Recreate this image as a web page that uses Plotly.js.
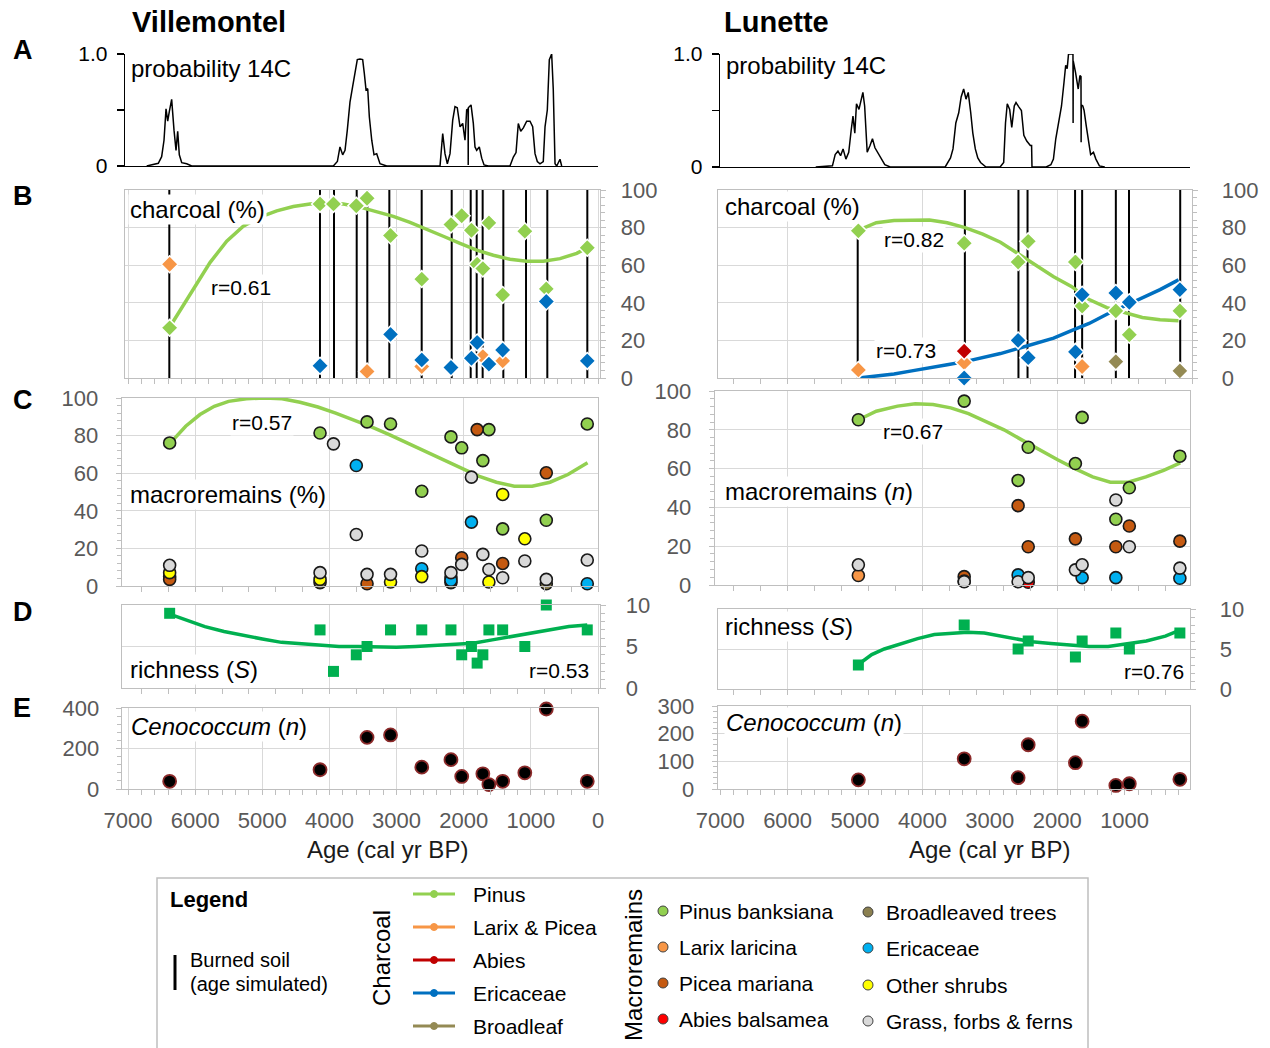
<!DOCTYPE html>
<html><head><meta charset="utf-8">
<script src="https://cdn.plot.ly/plotly-3.0.1.min.js"></script>
<style>html,body{margin:0;padding:0;background:#fff}#chart{width:1270px;height:1048px}</style>
</head><body><div id="chart"></div>
<script>
// ================= DATA =================
const siteNames = ['Villemontel', 'Lunette'];
const panelLetters = ['A', 'B', 'C', 'D', 'E'];
const ageTicks = [7000, 6000, 5000, 4000, 3000, 2000, 1000, 0];

// A: summed 14C probability (age cal yr BP, relative probability)
const probAgeV = [6722,6549,6499,6464,6434,6409,6385,6350,6315,6285,6260,6236,6200,6126,6052,
  3942,3882,3843,3803,3768,3734,3694,3654,3619,3585,3545,3505,3481,3455,3430,3406,3370,3336,3296,3247,3147,
  2353,2313,2279,2244,2204,2164,2130,2096,2055,2015,1981,1956,1935,1933,1931,1917,1891,1857,1832,1807,1768,1732,1697,1634,
  1311,1261,1221,1187,1151,1112,1062,1013,973,938,904,864,815,789,755,725,690,666,640,615,566,541];
const probV = [0,0.024,0.083,0.23,0.51,0.40,0.485,0.595,0.32,0.14,0.31,0.10,0.03,0.02,0,
  0,0.04,0.17,0.10,0.14,0.32,0.57,0.71,0.83,0.95,0.955,0.95,0.83,0.68,0.69,0.44,0.23,0.10,0.11,0.02,0,
  0,0.29,0.11,0.02,0.11,0.41,0.53,0.52,0.35,0.38,0.23,0.50,0.51,0.01,0.52,0.53,0.545,0.38,0.17,0.14,0.17,0.07,0.01,0,
  0,0.08,0.12,0.38,0.31,0.34,0.40,0.40,0.35,0.11,0.04,0.02,0.04,0.35,0.50,0.95,1.0,0.68,0.02,0,0.06,0];
const probAgeL = [5583,5335,5294,5253,5214,5177,5135,5093,5056,5030,5003,4978,4941,4915,4883,4857,4819,4777,4741,4704,4662,4610,4558,4478,
  3662,3583,3546,3504,3461,3425,3388,3353,3320,3283,3252,3215,3178,3137,3057,
  2847,2794,2767,2741,2705,2674,2637,2611,2567,2531,2495,2452,2399,2380,2374,
  2163,2094,2056,2021,1978,1936,1899,1874,1852,1832,1769,1766,1764,1762,1729,1688,1663,1647,1645,1643,1620,1601,1568,1531,1504,1462,1426,1374,1294];
const probL = [0,0.01,0.11,0.14,0.10,0.16,0.07,0.13,0.33,0.45,0.30,0.56,0.51,0.59,0.66,0.54,0.13,0.19,0.25,0.17,0.13,0.07,0.02,0,
  0,0.08,0.16,0.39,0.48,0.62,0.69,0.60,0.66,0.48,0.30,0.16,0.08,0.04,0,
  0,0.04,0.39,0.56,0.51,0.35,0.54,0.57,0.53,0.50,0.28,0.23,0.19,0.19,0,
  0,0.02,0.07,0.25,0.39,0.54,0.75,0.90,0.87,1.0,1.0,1.0,0.39,0.94,0.84,0.69,0.81,0.80,0.22,0.55,0.54,0.50,0.36,0.19,0.11,0.13,0.07,0.01,0];

// sample ages (cal yr BP)
const ageV = [6380,4140,3940,3600,3440,3090,2625,2190,2030,1885,1800,1715,1625,1420,1090,770,160];
const ageL = [4950,3380,2580,2430,1730,1630,1130,930,180];

// burned soil, simulated ages, and top of line (%)
const burnAgeV = [6385,4141,3932,3594,3436,3108,2626,2179,1896,1807,1718,1410,1072,755,159];
const burnAgeL = [4960,3370,2575,2440,1735,1630,1130,935,175];
const burnTopL = [78,100,100,100,100,100,100,100,100];

// B: charcoal (%)
const charPinusV = [26.7,92.6,92.6,91.6,95.6,75.8,52.6,81.6,86.3,78.6,60.5,58.2,82.5,44.2,78.1,47.4,69.3];
const charLarixV = [60.5,null,null,null,3.5,null,6.1,null,null,null,null,11.4,null,9.1,null,null,null];
const charEricV  = [null,6.5,null,null,null,23.2,9.6,5.6,null,10.5,18.9,null,7.4,14.9,null,40.7,9.1];
const charPinusL = [78.3,71.7,61.7,72.7,61.7,38.3,35.7,23.0,35.7];
const charLarixL = [4.3,8.2,null,null,null,6.1,null,null,null];
const charAbiesL = [null,14.3,null,null,null,null,null,null,null];
const charEricL  = [null,0,20.0,10.8,13.9,44.3,45.2,40.3,47.0];
const charBroadL = [null,null,null,null,null,null,8.7,null,3.8];

// B: fitted trends
const fitCharPinusV_age = [6385,6027,5779,5530,5283,5034,4785,4538,4290,4041,3793,3545,3296,3049,2800,2551,2304,2055,1807,1559,1311,1062,815,566,317,159];
const fitCharPinusV = [26.7,47.4,61.4,72.8,80.7,85.6,88.9,91.2,92.5,93.0,92.6,90.9,88.6,86.0,82.8,79.3,75.4,71.6,68.0,65.3,63.2,62.1,62.1,63.5,66.3,69.3];
const fitCharPinusL_age = [4974,4684,4421,4158,3895,3632,3368,3105,2842,2579,2316,2053,1789,1526,1263,1000,737,474,200];
const fitCharPinusL = [78.3,82.6,83.8,84.0,84.0,82.6,80.0,76.5,72.2,66.1,60.0,53.9,48.7,41.7,37.4,34.8,32.2,31.0,30.4];
const fitCharEricL_age = [4947,4684,4421,4158,3895,3632,3368,3105,2842,2579,2316,2053,1789,1526,1263,1000,737,474,200];
const fitCharEricL = [0,0.9,2.1,3.8,5.6,7.0,8.7,10.8,13.0,15.7,18.3,21.2,25.2,29.0,33.9,38.3,42.6,47.0,52.2];

// C: macroremains (% Villemontel, n Lunette)
const macPinusV = [76.1,81.4,null,null,87.3,86.2,50.4,79.3,73.5,null,null,66.7,83.2,30.4,null,35.0,86.2];
const macLarixV = [5,null,null,null,null,null,null,null,null,null,null,null,null,null,null,null,null];
const macPiceaV = [3.5,null,null,null,1.2,null,null,4.8,15.0,null,83.2,null,null,12.0,null,60.2,null];
const macBroadV = [null,1.8,null,null,null,null,null,1.8,null,null,null,null,null,null,null,1.2,null];
const macEricV  = [null,null,null,64.1,null,null,9.2,3.0,null,34.0,null,null,null,null,null,null,1.2];
const macShrubV = [7.1,3.5,null,null,null,2.1,5.0,null,null,null,null,null,2.1,48.7,25.1,null,null];
const macGrassV = [11,7.1,75.6,27.4,6.2,6.2,18.6,7.1,11.5,57.9,null,16.8,8.8,4.4,13.3,3.5,13.8];
const macPinusL = [85.2,94.8,53.9,71.0,62.6,86.4,33.9,50.1,66.4];
const macLarixL = [4.9,null,null,null,null,null,null,null,null];
const macPiceaL = [null,4.3,40.9,19.7,23.8,null,19.7,30.4,22.6];
const macAbiesL = [null,null,null,1.4,null,null,null,null,null];
const macBroadL = [null,2,null,null,null,null,null,null,null];
const macEricL  = [null,null,5.2,null,null,3.8,3.8,null,3.5];
const macGrassL = [10.4,1.7,1.7,3.8,7.8,10.4,43.8,19.7,8.7];

const fitMacV_age = [6369,6141,5928,5715,5502,5237,4970,4705,4438,4172,3907,3640,3375,3109,2843,2577,2310,2045,1778,1513,1247,981,715,448,156];
const fitMacV = [76.1,85.0,91.2,95.6,98.2,99.6,100,99.6,97.7,95.2,92.0,88.5,84.6,80.5,76.1,71.7,67.3,62.8,58.4,55.2,53.1,53.1,55.2,59.3,65.5];
const fitMacL_age = [4947,4684,4368,4105,3842,3579,3316,3053,2789,2526,2263,2000,1737,1474,1211,947,684,421,174];
const fitMacL = [85.2,89.6,92.2,93.4,93.0,91.3,88.3,84.3,80.0,74.8,69.6,64.7,60.0,55.7,53.0,53.0,55.7,59.1,62.9];

// D: richness (S)
const richV = [9,7,2,4,5,7,7,7,4,5,3,4,7,7,5,10,7];
const richL = [3,8,5,6,4,6,7,5,7];
const fitRichV_age = [6380,6140,5855,5570,5284,4999,4714,4429,4143,3858,3573,3287,3002,2717,2431,2146,1861,1576,1290,1005,720,434,160];
const fitRichV = [8.9,8.2,7.4,6.8,6.3,5.9,5.5,5.3,5.2,5.0,5.0,4.9,4.9,5.0,5.1,5.2,5.4,5.8,6.2,6.6,7.0,7.4,7.6];
const fitRichL_age = [4961,4752,4565,4318,4071,3823,3576,3329,3082,2834,2659,2376,2093,1810,1527,1244,961,678,395,197];
const fitRichL = [3.0,4.3,5.0,5.7,6.3,6.8,7.0,7.1,7.0,6.6,6.3,5.9,5.7,5.5,5.3,5.3,5.6,6.0,6.6,7.3];

// E: Cenococcum (n)
const cenoV = [38,95,null,null,255,267,108,145,62,null,null,75,22,38,80,395,38];
const cenoL = [33,109,41,160,95,245,13,19,35];

// correlation labels
const rLabels = {charV:'r=0.61', charL1:'r=0.82', charL2:'r=0.73', macV:'r=0.57', macL:'r=0.67', richV:'r=0.53', richL:'r=0.76'};

// legend names
const charcoalNames = ['Pinus', 'Larix & Picea', 'Abies', 'Ericaceae', 'Broadleaf'];
const macroNames1 = ['Pinus banksiana', 'Larix laricina', 'Picea mariana', 'Abies balsamea'];
const macroNames2 = ['Broadleaved trees', 'Ericaceae', 'Other shrubs', 'Grass, forbs & ferns'];

// ================= STYLE =================
const W = 1270, H = 1048;
const FONT = 'Liberation Sans, Arial, sans-serif';
const GRID = '#D9D9D9', BOX = '#BFBFBF', TXT = '#595959';
const cChar = {pinus:'#92D050', larix:'#F79646', abies:'#C00000', eric:'#0070C0', broad:'#948A54'};
const cMac = {pinus:'#92D050', larix:'#F79646', picea:'#C55A11', abies:'#FF0000', broad:'#8B8050', eric:'#00B0F0', shrub:'#FFFF00', grass:'#D9D9D9'};
const cRich = '#00B050';
const kL = 0.06714, zL = 598, kR = 0.0674, zR = 1192;   // px per year, px at age 0

const xr = (x0, x1, k, z) => [(z - x0) / k, (z - x1) / k];
const xd = (x0, x1) => [x0 / W, x1 / W];
const yd = (top, bot) => [1 - bot / H, 1 - top / H];

function boxX(x0, x1, left, grid, minor, anchor, extra) {
  const k = left ? kL : kR, z = left ? zL : zR;
  return Object.assign({
    domain: xd(x0, x1), range: xr(x0, x1, k, z), anchor: anchor,
    showline: true, mirror: true, linecolor: BOX, linewidth: 1.3,
    showgrid: true, gridcolor: GRID, gridwidth: 1, zeroline: false,
    tick0: 0, dtick: grid, ticks: 'outside', ticklen: 5, tickcolor: BOX, tickwidth: 1,
    showticklabels: false,
    minor: {tick0: 0, dtick: minor, ticks: 'outside', ticklen: 5, tickcolor: BOX, tickwidth: 1, showgrid: false},
    fixedrange: true
  }, extra || {});
}
function boxY(top, bot, rng, dtick, minor, anchor, side, standoff, extra) {
  return Object.assign({
    domain: yd(top, bot), range: rng, anchor: anchor, side: side,
    showline: true, mirror: true, linecolor: BOX, linewidth: 1.3,
    showgrid: true, gridcolor: GRID, gridwidth: 1, zeroline: false,
    tick0: 0, dtick: dtick, ticks: 'outside', ticklen: 5, tickcolor: BOX, tickwidth: 1,
    tickfont: {family: FONT, size: 22, color: TXT}, ticklabelstandoff: standoff,
    minor: {tick0: 0, dtick: minor, ticks: 'outside', ticklen: 4, tickcolor: BOX, tickwidth: 1, showgrid: false},
    fixedrange: true
  }, extra || {});
}
function probX(x0, x1, left, anchor) {
  const k = left ? kL : kR, z = left ? zL : zR;
  return {domain: xd(x0, x1), range: xr(x0, x1, k, z), anchor: anchor, showline: true, linecolor: '#000', linewidth: 1.3,
    ticks: '', showticklabels: false, showgrid: false, zeroline: false, fixedrange: true};
}
function probY(top, bot, anchor) {
  return {domain: yd(top, bot), range: [0, 1], anchor: anchor, showline: true, linecolor: '#000', linewidth: 1.3,
    ticks: 'outside', ticklen: 7, tickcolor: '#000', tickwidth: 1.3,
    tickmode: 'array', tickvals: [0, 0.5, 1], ticktext: ['0', '', '1.0'],
    tickfont: {family: FONT, size: 21, color: '#000'}, ticklabelstandoff: 5,
    showgrid: false, zeroline: false, fixedrange: true};
}
const ageTickText = ageTicks.map(String);
const eX = {showticklabels: true, tickmode: 'array', tickvals: ageTicks, ticktext: ageTickText,
  tickfont: {family: FONT, size: 22, color: TXT}, ticklabelstandoff: 6};

// ================= TRACES =================
function tr(x, y, xa, ya, o) {
  return Object.assign({type: 'scatter', x: x, y: y, xaxis: xa, yaxis: ya, hoverinfo: 'skip', showlegend: false}, o);
}
function vlines(ages, tops) {
  const x = [], y = [];
  ages.forEach((a, i) => { x.push(a, a, null); y.push(0, tops ? tops[i] : 100, null); });
  return {x: x, y: y};
}
const dia = c => ({symbol: 'diamond', size: 13, color: c, line: {color: '#fff', width: 1.5}});
const circ = c => ({symbol: 'circle', size: 12, color: c, line: {color: '#1a1a1a', width: 1.6}});
const trend = (c) => ({color: c, width: 3.5});

const traces = [];
// A
traces.push(tr(probAgeV, probV, 'x', 'y', {mode: 'lines', line: {color: '#000', width: 1.5}}));
traces.push(tr(probAgeL, probL, 'x2', 'y2', {mode: 'lines', line: {color: '#000', width: 1.5}}));
// B left
const bvV = vlines(burnAgeV);
traces.push(tr(bvV.x, bvV.y, 'x3', 'y3', {mode: 'lines', line: {color: '#000', width: 2}}));
traces.push(tr(fitCharPinusV_age, fitCharPinusV, 'x3', 'y3', {mode: 'lines', line: trend(cChar.pinus)}));
traces.push(tr(ageV, charPinusV, 'x3', 'y3', {mode: 'markers', marker: dia(cChar.pinus), cliponaxis: false}));
traces.push(tr(ageV, charLarixV, 'x3', 'y3', {mode: 'markers', marker: dia(cChar.larix), cliponaxis: false}));
traces.push(tr(ageV, charEricV, 'x3', 'y3', {mode: 'markers', marker: dia(cChar.eric), cliponaxis: false}));
// B right
const bvL = vlines(burnAgeL, burnTopL);
traces.push(tr(bvL.x, bvL.y, 'x4', 'y4', {mode: 'lines', line: {color: '#000', width: 2}}));
traces.push(tr(fitCharPinusL_age, fitCharPinusL, 'x4', 'y4', {mode: 'lines', line: trend(cChar.pinus)}));
traces.push(tr(fitCharEricL_age, fitCharEricL, 'x4', 'y4', {mode: 'lines', line: trend(cChar.eric)}));
traces.push(tr(ageL, charPinusL, 'x4', 'y4', {mode: 'markers', marker: dia(cChar.pinus), cliponaxis: false}));
traces.push(tr(ageL, charLarixL, 'x4', 'y4', {mode: 'markers', marker: dia(cChar.larix), cliponaxis: false}));
traces.push(tr(ageL, charAbiesL, 'x4', 'y4', {mode: 'markers', marker: dia(cChar.abies), cliponaxis: false}));
traces.push(tr(ageL, charEricL, 'x4', 'y4', {mode: 'markers', marker: dia(cChar.eric), cliponaxis: false}));
traces.push(tr(ageL, charBroadL, 'x4', 'y4', {mode: 'markers', marker: dia(cChar.broad), cliponaxis: false}));
// C left
traces.push(tr(fitMacV_age, fitMacV, 'x5', 'y5', {mode: 'lines', line: trend(cMac.pinus)}));
[[macPinusV, cMac.pinus], [macLarixV, cMac.larix], [macPiceaV, cMac.picea], [macBroadV, cMac.broad],
 [macEricV, cMac.eric], [macShrubV, cMac.shrub], [macGrassV, cMac.grass]].forEach(s =>
  traces.push(tr(ageV, s[0], 'x5', 'y5', {mode: 'markers', marker: circ(s[1]), cliponaxis: false})));
// C right
traces.push(tr(fitMacL_age, fitMacL, 'x6', 'y6', {mode: 'lines', line: trend(cMac.pinus)}));
[[macPinusL, cMac.pinus], [macLarixL, cMac.larix], [macPiceaL, cMac.picea], [macAbiesL, cMac.abies],
 [macBroadL, cMac.broad], [macEricL, cMac.eric], [macGrassL, cMac.grass]].forEach(s =>
  traces.push(tr(ageL, s[0], 'x6', 'y6', {mode: 'markers', marker: circ(s[1]), cliponaxis: false})));
// D
traces.push(tr(fitRichV_age, fitRichV, 'x7', 'y7', {mode: 'lines', line: trend(cRich)}));
traces.push(tr(ageV, richV, 'x7', 'y7', {mode: 'markers', marker: {symbol: 'square', size: 11, color: cRich}, cliponaxis: false}));
traces.push(tr(fitRichL_age, fitRichL, 'x8', 'y8', {mode: 'lines', line: trend(cRich)}));
traces.push(tr(ageL, richL, 'x8', 'y8', {mode: 'markers', marker: {symbol: 'square', size: 11, color: cRich}, cliponaxis: false}));
// E
const cenoM = {symbol: 'circle', size: 13, color: '#000', line: {color: '#8B2A2A', width: 1.8}};
traces.push(tr(ageV, cenoV, 'x9', 'y9', {mode: 'markers', marker: cenoM, cliponaxis: false}));
traces.push(tr(ageL, cenoL, 'x10', 'y10', {mode: 'markers', marker: cenoM, cliponaxis: false}));
traces.push(tr([], [], 'x11', 'y10', {mode: 'markers'}));

// ================= ANNOTATIONS =================
function T(text, x, y, size, o) {
  return Object.assign({text: text, x: x / W, y: 1 - y / H, xref: 'paper', yref: 'paper', xanchor: 'left', yanchor: 'middle',
    showarrow: false, font: {family: FONT, size: size, color: '#000'}}, o || {});
}
const WB = {bgcolor: '#fff', borderpad: 1};
const ann = [
  T('<b>' + siteNames[0] + '</b>', 130, 22, 29),
  T('<b>' + siteNames[1] + '</b>', 722, 22, 29),
  T('<b>' + panelLetters[0] + '</b>', 11, 50, 27),
  T('<b>' + panelLetters[1] + '</b>', 11, 196, 27),
  T('<b>' + panelLetters[2] + '</b>', 11, 400, 27),
  T('<b>' + panelLetters[3] + '</b>', 11, 612, 27),
  T('<b>' + panelLetters[4] + '</b>', 11, 708, 27),
  T('probability 14C', 129, 68, 24),
  T('probability 14C', 724, 66, 24),
  T('charcoal (%)', 128, 209, 24, WB),
  T('charcoal (%)', 723, 207, 24, WB),
  T(rLabels.charV, 209, 287, 21, WB),
  T(rLabels.charL1, 882, 240, 21, WB),
  T(rLabels.charL2, 874, 350, 21, WB),
  T(rLabels.macV, 230, 422, 21, WB),
  T(rLabels.macL, 881, 431, 21, WB),
  T('macroremains (%)', 128, 494, 24, WB),
  T('macroremains (<i>n</i>)', 723, 491, 24, WB),
  T('richness (<i>S</i>)', 128, 669, 24, WB),
  T('richness (<i>S</i>)', 723, 626, 24, WB),
  T(rLabels.richV, 591, 670, 21, Object.assign({xanchor: 'right'}, WB)),
  T(rLabels.richL, 1186, 671, 21, Object.assign({xanchor: 'right'}, WB)),
  T('<i>Cenococcum</i> (<i>n</i>)', 129, 726, 24, WB),
  T('<i>Cenococcum</i> (<i>n</i>)', 724, 722, 24, WB),
  T('Age (cal yr BP)', 387, 849, 24, {xanchor: 'center', font: {family: FONT, size: 24, color: '#1a1a1a'}}),
  T('Age (cal yr BP)', 990, 849, 24, {xanchor: 'center', font: {family: FONT, size: 24, color: '#1a1a1a'}}),
  // legend
  T('<b>Legend</b>', 168, 899, 22),
  T('Burned soil', 188, 960, 20),
  T('(age simulated)', 188, 984, 20),
  T('Charcoal', 381, 958, 24, {xanchor: 'center', textangle: -90}),
  T('Macroremains', 633, 965, 24, {xanchor: 'center', textangle: -90})
];
const charLegY = [894, 927, 960, 993, 1026];
const charLegC = [cChar.pinus, cChar.larix, cChar.abies, cChar.eric, cChar.broad];
charcoalNames.forEach((n, i) => ann.push(T(n, 471, charLegY[i], 21)));
const macY1 = [911, 947, 983, 1019], macY2 = [912, 948, 985, 1021];
const macC1 = [cMac.pinus, cMac.larix, cMac.picea, cMac.abies];
const macC2 = [cMac.broad, cMac.eric, cMac.shrub, cMac.grass];
macroNames1.forEach((n, i) => ann.push(T(n, 677, macY1[i], 21)));
macroNames2.forEach((n, i) => ann.push(T(n, 884, macY2[i], 21)));

// ================= LEGEND SHAPES =================
const shapes = [];
shapes.push({type: 'rect', xref: 'paper', yref: 'paper', x0: 157 / W, x1: 1088 / W, y0: 1 - 1056 / H, y1: 1 - 878 / H,
  line: {color: BOX, width: 1.5}, fillcolor: 'rgba(0,0,0,0)'});
shapes.push({type: 'line', xref: 'paper', yref: 'paper', x0: 175 / W, x1: 175 / W, y0: 1 - 990 / H, y1: 1 - 955 / H,
  line: {color: '#000', width: 3}});
charLegY.forEach((y, i) => {
  shapes.push({type: 'line', xref: 'paper', yref: 'paper', x0: 413 / W, x1: 455 / W, y0: 1 - y / H, y1: 1 - y / H,
    line: {color: charLegC[i], width: 3}});
  shapes.push({type: 'circle', xref: 'paper', yref: 'paper', x0: 430.5 / W, x1: 437.5 / W, y0: 1 - (y + 3.5) / H, y1: 1 - (y - 3.5) / H,
    line: {color: charLegC[i], width: 1}, fillcolor: charLegC[i]});
});
function legCirc(x, y, c) {
  shapes.push({type: 'circle', xref: 'paper', yref: 'paper', x0: (x - 5) / W, x1: (x + 5) / W, y0: 1 - (y + 5) / H, y1: 1 - (y - 5) / H,
    line: {color: '#404040', width: 1}, fillcolor: c});
}
macY1.forEach((y, i) => legCirc(663, y, macC1[i]));
macY2.forEach((y, i) => legCirc(868, y, macC2[i]));

// ================= LAYOUT =================
const layout = {
  width: W, height: H, margin: {l: 0, r: 0, t: 0, b: 0}, paper_bgcolor: '#fff', plot_bgcolor: '#fff',
  showlegend: false, font: {family: FONT},
  xaxis: probX(125, 598, true, 'y'),
  yaxis: probY(54, 166, 'x'),
  xaxis2: probX(720, 1190, false, 'y2'),
  yaxis2: probY(54, 167, 'x2'),
  xaxis3: boxX(125, 600, true, 1000, 200, 'y3'),
  yaxis3: boxY(190, 378, [0, 100], 20, 4, 'x3', 'right', 10),
  xaxis4: boxX(718, 1192, false, 2000, 400, 'y4'),
  yaxis4: boxY(190, 378, [0, 100], 20, 4, 'x4', 'right', 19),
  xaxis5: boxX(122, 598, true, 2000, 400, 'y5'),
  yaxis5: boxY(398, 586, [0, 100], 20, 4, 'x5', 'left', 13),
  xaxis6: boxX(715, 1190, false, 2000, 400, 'y6'),
  yaxis6: boxY(391, 585, [0, 100], 20, 4, 'x6', 'left', 13),
  xaxis7: boxX(122, 600, true, 2000, 400, 'y7'),
  yaxis7: boxY(605, 688, [0, 10], 5, 1, 'x7', 'right', 15),
  xaxis8: boxX(718, 1190, false, 2000, 400, 'y8'),
  yaxis8: boxY(609, 689, [0, 10], 5, 1, 'x8', 'right', 19),
  xaxis9: boxX(122, 598, true, 1000, 200, 'y9', eX),
  yaxis9: boxY(708, 789, [0, 400], 200, 40, 'x9', 'left', 12),
  xaxis10: boxX(718, 1190, false, 1000, 200, 'y10', Object.assign({}, eX, {showgrid: false})),
  yaxis10: boxY(706, 789, [0, 300], 100, 20, 'x10', 'left', 13),
  xaxis11: {overlaying: 'x10', anchor: 'y10', domain: xd(718, 1190), range: xr(718, 1190, kR, zR), tick0: 0, dtick: 2000,
    showgrid: true, gridcolor: GRID, showticklabels: false, ticks: '', showline: false, zeroline: false, fixedrange: true},
  annotations: ann,
  shapes: shapes
};

Plotly.newPlot('chart', traces, layout, {staticPlot: true, displayModeBar: false});
</script>
</body></html>
